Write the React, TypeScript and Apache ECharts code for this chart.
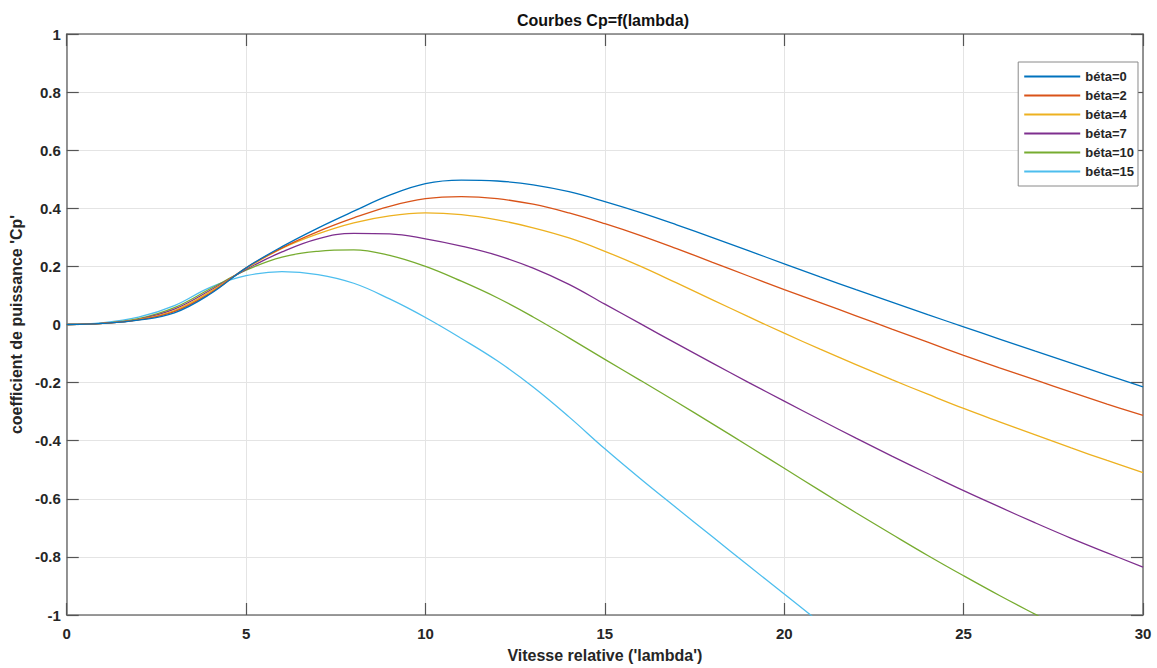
import React, { useEffect, useRef } from "react";
import * as echarts from "echarts";

const LAMBDA = [0,1,2,3,4,5,6,7,8,9,10,11,12,13,14,15,16,17,18,19,20,21,22,23,24,25,26,27,28,29,30];
const SERIES_NAMES = ["béta=0", "béta=2", "béta=4", "béta=7", "béta=10", "béta=15"];
const BETA0 = [0,0.004,0.015,0.04,0.105,0.195,0.268,0.332,0.39,0.445,0.485,0.497,0.494,0.481,0.457,0.423,0.385,0.343,0.299,0.254,0.209,0.164,0.12,0.077,0.034,-0.008,-0.05,-0.092,-0.133,-0.174,-0.215];
const BETA2 = [0,0.004,0.016,0.044,0.108,0.195,0.264,0.32,0.367,0.407,0.433,0.44,0.433,0.414,0.384,0.347,0.306,0.261,0.214,0.167,0.12,0.075,0.03,-0.016,-0.061,-0.106,-0.149,-0.191,-0.233,-0.274,-0.313];
const BETA4 = [0,0.004,0.017,0.048,0.113,0.193,0.262,0.312,0.35,0.374,0.384,0.378,0.36,0.333,0.298,0.252,0.2,0.143,0.085,0.027,-0.03,-0.085,-0.138,-0.19,-0.24,-0.289,-0.335,-0.38,-0.425,-0.468,-0.51];
const BETA7 = [0,0.004,0.018,0.053,0.118,0.19,0.25,0.295,0.314,0.312,0.295,0.27,0.238,0.194,0.138,0.07,0.002,-0.066,-0.133,-0.199,-0.264,-0.328,-0.391,-0.453,-0.513,-0.572,-0.628,-0.683,-0.736,-0.786,-0.835];
const BETA10 = [0,0.004,0.02,0.058,0.123,0.187,0.232,0.252,0.257,0.238,0.2,0.149,0.092,0.026,-0.046,-0.12,-0.193,-0.267,-0.342,-0.418,-0.495,-0.572,-0.648,-0.722,-0.795,-0.865,-0.933,-0.998,-1.062];
const BETA15 = [0,0.006,0.025,0.065,0.128,0.168,0.182,0.172,0.142,0.088,0.024,-0.048,-0.125,-0.215,-0.318,-0.428,-0.532,-0.632,-0.731,-0.83,-0.928,-1.026];
const COLORS = ["#0072BD", "#D95319", "#EDB120", "#7E2F8E", "#77AC30", "#4DBEEE"];

const FONT = "'Liberation Sans', Arial, Helvetica, sans-serif";

export default function App() {
  const ref = useRef<HTMLDivElement>(null);
  useEffect(() => {
    if (!ref.current) return;
    const chart = echarts.init(ref.current, undefined, { renderer: "svg" });
    const all = [BETA0, BETA2, BETA4, BETA7, BETA10, BETA15];
    const axisLine = { show: true, onZero: false, lineStyle: { color: "#7a7a7a", width: 1.6 } };
    const tick = { show: true, inside: true, length: 12, lineStyle: { color: "#555", width: 1.2 } };
    const labelStyle = { color: "#262626", fontWeight: "bold" as const, fontFamily: FONT, fontSize: 15 };
    chart.setOption({
      animation: false,
      backgroundColor: "#ffffff",
      title: {
        text: "Courbes Cp=f(lambda)",
        left: 603,
        textAlign: "center",
        top: 12,
        padding: 0,
        textStyle: { color: "#111", fontWeight: "bold", fontFamily: FONT, fontSize: 16 },
      },
      legend: {
        orient: "vertical",
        right: 19,
        top: 62,
        padding: [8, 4, 8, 6],
        itemGap: 6,
        icon: "rect",
        itemWidth: 56,
        itemHeight: 2,
        borderColor: "#8a8a8a",
        borderWidth: 1,
        backgroundColor: "#ffffff",
        textStyle: { color: "#262626", fontWeight: "bold", fontFamily: FONT, fontSize: 13, padding: [0, 0, 0, 0] },
        data: SERIES_NAMES,
      },
      grid: { left: 64, right: 14, top: 34, bottom: 52, containLabel: false },
      xAxis: [
        {
          type: "value", min: 0, max: 30, interval: 5,
          name: "Vitesse relative ('lambda')", nameLocation: "middle", nameGap: 32,
          nameTextStyle: { color: "#262626", fontWeight: "bold", fontFamily: FONT, fontSize: 16 },
          axisLine, axisTick: tick,
          axisLabel: { ...labelStyle, margin: 11 },
          splitLine: { show: true, lineStyle: { color: "#e4e4e4", width: 1 } },
        },
        {
          type: "value", min: 0, max: 30, interval: 5, position: "top",
          axisLine, axisTick: tick, axisLabel: { show: false }, splitLine: { show: false },
        },
      ],
      yAxis: [
        {
          type: "value", min: -1, max: 1, interval: 0.2,
          name: "coefficient de puissance 'Cp'", nameLocation: "middle", nameGap: 34,
          nameTextStyle: { color: "#262626", fontWeight: "bold", fontFamily: FONT, fontSize: 16 },
          axisLine, axisTick: tick,
          axisLabel: { ...labelStyle, margin: 6, formatter: (v: number) => String(Math.round(v * 10) / 10) },
          splitLine: { show: true, lineStyle: { color: "#e4e4e4", width: 1 } },
        },
        {
          type: "value", min: -1, max: 1, interval: 0.2, position: "right",
          axisLine, axisTick: tick, axisLabel: { show: false }, splitLine: { show: false },
        },
      ],
      series: all.map((vals, i) => ({
        name: SERIES_NAMES[i],
        type: "line",
        xAxisIndex: 0,
        yAxisIndex: 0,
        data: vals.map((v, j) => [LAMBDA[j], v]),
        showSymbol: false,
        smooth: 0.4,
        clip: true,
        lineStyle: { color: COLORS[i], width: 1.3 },
        itemStyle: { color: COLORS[i] },
        z: 10 - i,
      })),
    });
    return () => chart.dispose();
  }, []);
  return <div ref={ref} style={{ position: "fixed", left: 0, top: 0, width: 1157, height: 668 }} />;
}
